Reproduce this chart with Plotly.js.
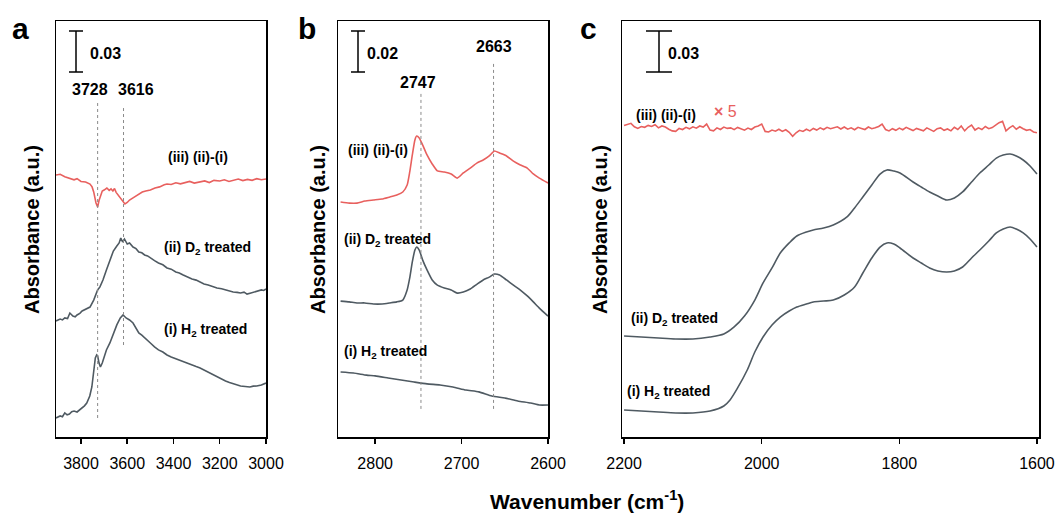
<!DOCTYPE html>
<html><head><meta charset="utf-8">
<script src="https://cdn.plot.ly/plotly-3.0.1.min.js"></script>
<style>html,body{margin:0;padding:0;background:#fff}#chart{width:1060px;height:518px}</style>
</head><body><div id="chart"></div>
<script>
// ---------- Panel a (O-H region) ----------
const aWaveIII = [3908,3890,3870,3850,3830,3817,3800,3780,3770,3761,3752,3745,3735,3728,3722,3716,3708,3700,3688,3678,3670,3662,3655,3648,3640,3632,3625,3618,3610,3600,3590,3575,3560,3550,3535,3520,3500,3480,3460,3440,3428,3410,3390,3370,3350,3330,3310,3285,3265,3245,3225,3200,3180,3160,3142,3120,3100,3080,3060,3040,3020,3000];
const aAbsIII  = [0.1917,0.1922,0.1905,0.1896,0.1882,0.1890,0.1870,0.1866,0.1858,0.1851,0.1830,0.1793,0.1712,0.1683,0.1730,0.1760,0.1800,0.1807,0.1822,0.1805,0.1815,0.1800,0.1818,0.1790,0.1771,0.1760,0.1741,0.1725,0.1705,0.1716,0.1734,0.1750,0.1768,0.1778,0.1792,0.1800,0.1807,0.1822,0.1830,0.1845,0.1851,0.1848,0.1860,0.1852,0.1859,0.1870,0.1858,0.1866,0.1874,0.1862,0.1878,0.1873,0.1882,0.1870,0.1880,0.1888,0.1876,0.1885,0.1878,0.1890,0.1882,0.1888];

const aWaveII = [3908,3898,3890,3880,3870,3858,3848,3835,3825,3817,3805,3795,3785,3775,3761,3745,3735,3728,3718,3705,3690,3675,3660,3645,3635,3628,3620,3612,3600,3590,3575,3562,3550,3537,3525,3512,3500,3482,3465,3446,3428,3410,3390,3375,3358,3340,3320,3302,3285,3268,3250,3230,3212,3192,3175,3158,3142,3125,3110,3095,3082,3065,3050,3035,3020,3010,3000];
const aAbsII  = [0.0849,0.0858,0.0863,0.0857,0.0871,0.0866,0.0907,0.0885,0.0880,0.0893,0.0905,0.0922,0.0930,0.0944,0.0951,0.1002,0.1054,0.1076,0.1098,0.1149,0.1222,0.1295,0.1361,0.1398,0.1420,0.1456,0.1427,0.1449,0.1412,0.1420,0.1390,0.1378,0.1354,0.1348,0.1332,0.1325,0.1310,0.1290,0.1273,0.1260,0.1237,0.1228,0.1207,0.1200,0.1185,0.1170,0.1156,0.1148,0.1134,0.1120,0.1112,0.1100,0.1090,0.1085,0.1076,0.1070,0.1061,0.1058,0.1054,0.1060,0.1046,0.1054,0.1061,0.1068,0.1076,0.1072,0.1083];

const aWaveI = [3908,3898,3890,3880,3870,3860,3850,3840,3830,3817,3805,3795,3785,3775,3762,3753,3745,3738,3732,3728,3722,3716,3708,3700,3690,3675,3660,3645,3630,3618,3605,3590,3575,3562,3550,3537,3525,3512,3500,3482,3465,3446,3428,3410,3390,3375,3358,3340,3320,3302,3285,3268,3250,3230,3212,3192,3175,3158,3142,3125,3110,3090,3070,3055,3040,3020,3000];
const aAbsI  = [0.0139,0.0150,0.0154,0.0148,0.0176,0.0162,0.0168,0.0185,0.0190,0.0183,0.0200,0.0212,0.0228,0.0249,0.0300,0.0366,0.0476,0.0578,0.0600,0.0593,0.0541,0.0512,0.0541,0.0578,0.0637,0.0688,0.0761,0.0820,0.0871,0.0893,0.0871,0.0856,0.0834,0.0800,0.0761,0.0745,0.0724,0.0705,0.0688,0.0660,0.0637,0.0622,0.0600,0.0585,0.0571,0.0562,0.0549,0.0538,0.0527,0.0515,0.0505,0.0490,0.0476,0.0455,0.0439,0.0425,0.0410,0.0398,0.0388,0.0380,0.0373,0.0370,0.0366,0.0372,0.0373,0.0380,0.0395];

const aPeaks = [3728, 3616];
const aPeakTop = [0.2466, 0.2407];
const aPeakBottom = [0.0139, 0.0673];

// ---------- Panel b (O-D region) ----------
const bWaveIII = [2840,2830,2821,2812,2802,2792,2783,2775,2768,2763,2760,2757,2754,2752,2749,2745,2740,2734,2728,2720,2712,2705,2698,2690,2682,2675,2668,2662,2656,2648,2640,2632,2624,2617,2610,2600];
const bAbsIII  = [0.1146,0.1141,0.1141,0.1151,0.1156,0.1161,0.1171,0.1180,0.1195,0.1229,0.1293,0.1376,0.1449,0.1468,0.1459,0.1424,0.1376,0.1332,0.1298,0.1293,0.1283,0.1263,0.1288,0.1312,0.1337,0.1351,0.1371,0.1395,0.1385,0.1371,0.1346,0.1327,0.1312,0.1283,0.1263,0.1239];

const bWaveII = [2840,2830,2821,2812,2802,2792,2783,2775,2768,2763,2760,2757,2754,2752,2749,2745,2740,2734,2728,2720,2712,2705,2698,2690,2682,2675,2668,2662,2656,2648,2640,2632,2624,2617,2610,2600];
const bAbsII  = [0.0663,0.0659,0.0654,0.0654,0.0649,0.0649,0.0654,0.0659,0.0668,0.0717,0.0776,0.0854,0.0912,0.0927,0.0912,0.0863,0.0815,0.0766,0.0741,0.0727,0.0717,0.0702,0.0707,0.0722,0.0746,0.0766,0.0780,0.0795,0.0790,0.0766,0.0741,0.0717,0.0688,0.0659,0.0629,0.0590];

const bWaveI = [2840,2825,2810,2800,2785,2770,2755,2740,2725,2710,2695,2680,2665,2650,2635,2620,2610,2600];
const bAbsI  = [0.0317,0.0312,0.0302,0.0298,0.0288,0.0278,0.0268,0.0259,0.0254,0.0244,0.0229,0.0220,0.0200,0.0190,0.0176,0.0166,0.0156,0.0156];

const bPeaks = [2747, 2663];
const bPeakTop = [0.1683, 0.1824];
const bPeakBottom = [0.0137, 0.0137];

// ---------- Panel c (1600-2200) ----------
const cWaveIII = [2200,2195,2190,2185,2180,2175,2170,2165,2160,2155,2150,2145,2140,2135,2130,2125,2120,2115,2110,2105,2100,2095,2090,2085,2080,2075,2070,2065,2060,2055,2050,2045,2040,2035,2030,2025,2020,2015,2010,2005,2000,1995,1990,1985,1980,1975,1970,1965,1960,1955,1950,1945,1940,1935,1930,1925,1920,1915,1910,1905,1900,1895,1890,1885,1880,1875,1870,1865,1860,1855,1850,1845,1840,1835,1830,1825,1820,1815,1810,1805,1800,1795,1790,1785,1780,1775,1770,1765,1760,1755,1750,1745,1740,1735,1730,1725,1720,1715,1710,1705,1700,1695,1690,1685,1680,1675,1670,1665,1660,1655,1650,1645,1640,1635,1630,1625,1620,1615,1610,1605,1600];
const cAbsIII  = [0.2280,0.2290,0.2295,0.2270,0.2258,0.2272,0.2266,0.2280,0.2272,0.2285,0.2262,0.2276,0.2268,0.2252,0.2240,0.2236,0.2258,0.2250,0.2266,0.2255,0.2270,0.2260,0.2276,0.2268,0.2290,0.2246,0.2240,0.2262,0.2250,0.2268,0.2258,0.2262,0.2249,0.2265,0.2254,0.2245,0.2260,0.2250,0.2268,0.2276,0.2290,0.2236,0.2232,0.2246,0.2238,0.2252,0.2236,0.2248,0.2230,0.2200,0.2226,0.2244,0.2236,0.2252,0.2240,0.2258,0.2246,0.2262,0.2250,0.2266,0.2256,0.2262,0.2270,0.2254,0.2268,0.2252,0.2262,0.2248,0.2266,0.2258,0.2250,0.2268,0.2256,0.2262,0.2272,0.2290,0.2250,0.2240,0.2256,0.2244,0.2260,0.2248,0.2266,0.2254,0.2242,0.2258,0.2246,0.2240,0.2262,0.2248,0.2236,0.2256,0.2262,0.2244,0.2254,0.2240,0.2266,0.2250,0.2276,0.2240,0.2266,0.2282,0.2246,0.2262,0.2250,0.2272,0.2256,0.2264,0.2282,0.2300,0.2310,0.2240,0.2262,0.2278,0.2252,0.2270,0.2256,0.2244,0.2250,0.2232,0.2226];

const cWaveII = [2200,2175,2150,2125,2100,2075,2055,2040,2025,2010,1998,1985,1973,1960,1949,1935,1925,1910,1896,1876,1865,1853,1840,1828,1818,1808,1799,1780,1768,1756,1744,1731,1720,1708,1695,1683,1670,1659,1649,1639,1630,1620,1610,1600];
const cAbsII  = [0.0739,0.0732,0.0724,0.0717,0.0717,0.0732,0.0754,0.0805,0.0885,0.1002,0.1127,0.1237,0.1346,0.1420,0.1471,0.1500,0.1515,0.1529,0.1551,0.1610,0.1676,0.1756,0.1844,0.1924,0.1954,0.1946,0.1932,0.1866,0.1829,0.1793,0.1763,0.1734,0.1749,0.1793,0.1866,0.1932,0.1990,0.2041,0.2063,0.2071,0.2056,0.2027,0.1983,0.1924];

const cWaveI = [2200,2175,2150,2125,2100,2075,2055,2046,2035,2021,2010,1998,1985,1973,1960,1949,1935,1925,1910,1896,1880,1865,1853,1840,1828,1818,1808,1799,1780,1768,1756,1744,1731,1720,1708,1695,1683,1670,1659,1649,1639,1630,1620,1610,1600];
const cAbsI  = [0.0198,0.0190,0.0183,0.0176,0.0176,0.0190,0.0227,0.0271,0.0359,0.0490,0.0622,0.0732,0.0820,0.0878,0.0922,0.0951,0.0973,0.0988,0.0995,0.1002,0.1039,0.1098,0.1200,0.1310,0.1390,0.1420,0.1412,0.1383,0.1310,0.1273,0.1237,0.1215,0.1207,0.1215,0.1244,0.1310,0.1368,0.1434,0.1493,0.1522,0.1537,0.1522,0.1493,0.1449,0.1390];

// tick labels
const aTicks = [3800,3600,3400,3200,3000];
const bTicks = [2800,2700,2600];
const cTicks = [2200,2000,1800,1600];
const scaleBars = [0.03, 0.02, 0.03];

// ---------- layout helpers (pixel -> paper) ----------
const W = 1060, H = 518;
const px = x => x / W;
const py = y => 1 - y / H;
const GRAY = '#4f5a62', RED = '#e8605e';
const FONT = 'Arial, "Liberation Sans", sans-serif';

function tr(x, y, color, xa, ya, smooth) {
  const line = {color: color, width: 1.6};
  if (smooth) { line.shape = 'spline'; line.smoothing = smooth; }
  return {x: x, y: y, xaxis: xa, yaxis: ya, type: 'scatter', mode: 'lines',
          line: line, hoverinfo: 'skip', showlegend: false};
}
const data = [
  tr(aWaveIII, aAbsIII, RED, 'x', 'y'),
  tr(aWaveII, aAbsII, GRAY, 'x', 'y'),
  tr(aWaveI, aAbsI, GRAY, 'x', 'y'),
  tr(bWaveIII, bAbsIII, RED, 'x2', 'y2', 0.5),
  tr(bWaveII, bAbsII, GRAY, 'x2', 'y2', 0.5),
  tr(bWaveI, bAbsI, GRAY, 'x2', 'y2', 0.5),
  tr(cWaveIII, cAbsIII, RED, 'x3', 'y3'),
  tr(cWaveII, cAbsII, GRAY, 'x3', 'y3', 0.8),
  tr(cWaveI, cAbsI, GRAY, 'x3', 'y3', 0.8)
];

const yDom = [py(437), py(21)];
function xax(dom, range, ticks, anchor) {
  return {domain: dom, range: range, anchor: anchor, tickvals: ticks, ticktext: ticks.map(String),
    ticks: 'outside', ticklen: 5, tickwidth: 1.5, tickcolor: '#000',
    showline: true, linecolor: '#000', linewidth: 1.5, mirror: true,
    showgrid: false, zeroline: false, ticklabelstandoff: 6,
    tickfont: {family: FONT, size: 16, color: '#000'}, fixedrange: true};
}
function yax(anchor, range) {
  return {domain: yDom, range: range, anchor: anchor, showticklabels: false, ticks: '',
    showline: true, linecolor: '#000', linewidth: 1.5, mirror: true,
    showgrid: false, zeroline: false, fixedrange: true};
}
const kA = 0.03 / 41, kB = 0.02 / 41;
const layout = {
  width: W, height: H, margin: {l: 0, r: 0, t: 0, b: 0},
  paper_bgcolor: '#fff', plot_bgcolor: '#fff',
  font: {family: FONT, color: '#000', size: 14},
  xaxis: xax([px(56), px(266)], [3908, 3000], aTicks, 'y'),
  xaxis2: xax([px(338), px(548)], [2843, 2600], bTicks, 'y2'),
  xaxis3: xax([px(622), px(1039)], [2203, 1597], cTicks, 'y3'),
  yaxis: yax('x', [0, 416 * kA]),
  yaxis2: yax('x2', [0, 416 * kB]),
  yaxis3: yax('x3', [0, 416 * kA]),
  shapes: [], annotations: []
};

// dotted peak markers
function vline(xr, yr, x, y0, y1) {
  layout.shapes.push({type: 'line', xref: xr, yref: yr, x0: x, x1: x, y0: y0, y1: y1,
    line: {color: '#8a8a8a', width: 1, dash: 'dot'}});
}
aPeaks.forEach((p, i) => vline('x', 'y', p, aPeakBottom[i], aPeakTop[i]));
bPeaks.forEach((p, i) => vline('x2', 'y2', p, bPeakBottom[i], bPeakTop[i]));

// scale bars
function bar(xc, half, yr, top, len) {
  const L = {color: '#000', width: 1.5};
  layout.shapes.push({type: 'line', xref: 'paper', yref: yr, x0: px(xc), x1: px(xc), y0: top - len, y1: top, line: L});
  layout.shapes.push({type: 'line', xref: 'paper', yref: yr, x0: px(xc - half), x1: px(xc + half), y0: top, y1: top, line: L});
  layout.shapes.push({type: 'line', xref: 'paper', yref: yr, x0: px(xc - half), x1: px(xc + half), y0: top - len, y1: top - len, line: L});
}
bar(76, 7, 'y', 406 * kA, scaleBars[0]);
bar(358, 7, 'y2', 406 * kB, scaleBars[1]);
bar(659, 13, 'y3', 406 * kA, scaleBars[2]);

function ann(text, x, y, size, opts) {
  layout.annotations.push(Object.assign({text: text, xref: 'paper', yref: 'paper',
    x: px(x), y: py(y), showarrow: false, xanchor: 'left', yanchor: 'middle',
    font: {family: FONT, size: size, color: '#000'}}, opts || {}));
}
const b = s => '<b>' + s + '</b>';
// panel letters
ann(b('a'), 20, 28, 30, {xanchor: 'center'});
ann(b('b'), 307, 28, 30, {xanchor: 'center'});
ann(b('c'), 588, 28, 30, {xanchor: 'center'});
// y titles
[32, 318, 600].forEach(x => ann(b('Absorbance (a.u.)'), x, 230, 20, {xanchor: 'center', textangle: -90}));
// x title
ann(b('Wavenumber (cm<sup>-1</sup>)'), 587, 500, 21, {xanchor: 'center'});
// scale labels
ann(b(scaleBars[0].toFixed(2)), 88, 53, 16);
ann(b(scaleBars[1].toFixed(2)), 365, 53, 16);
ann(b(scaleBars[2].toFixed(2)), 666, 53, 16);
// peak labels
ann(b(String(aPeaks[0])), 90, 90, 16, {xanchor: 'center'});
ann(b(String(aPeaks[1])), 136, 90, 16, {xanchor: 'center'});
ann(b(String(bPeaks[0])), 418, 82, 16, {xanchor: 'center'});
ann(b(String(bPeaks[1])), 494, 46, 16, {xanchor: 'center'});
// series labels
const L3 = b('(iii) (ii)-(i)'), L2 = b('(ii) D<sub>2</sub> treated'), L1 = b('(i) H<sub>2</sub> treated');
const SZ = 14;
ann(L3, 166, 157, SZ); ann(L2, 162, 248, SZ); ann(L1, 162, 330, SZ);
ann(L3, 346, 150, SZ); ann(L2, 342, 240, SZ); ann(L1, 342, 352, SZ);
ann(L3, 634, 115, SZ); ann(L2, 629, 319, SZ); ann(L1, 625, 392, SZ);
ann('<b>×</b> 5', 712, 111, 16, {font: {family: FONT, size: 16, color: RED}});

Plotly.newPlot('chart', data, layout, {displayModeBar: false, staticPlot: true});
</script></body></html>
